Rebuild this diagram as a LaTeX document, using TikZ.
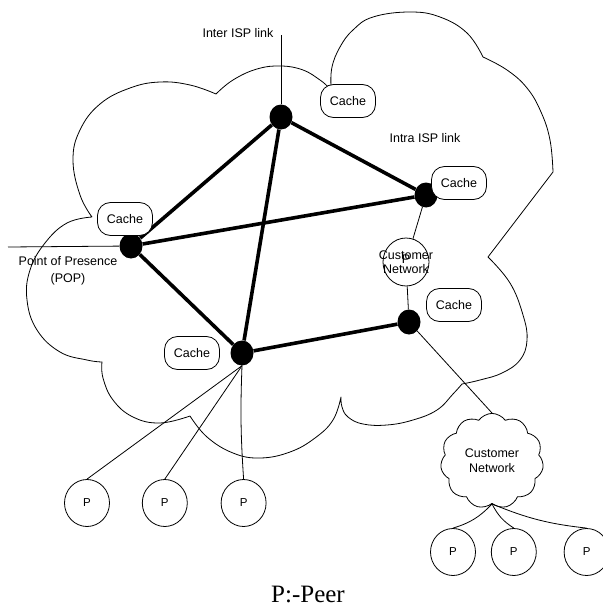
\documentclass[tikz,border=0pt]{standalone}
\usepackage{fontspec}
\setmainfont{Liberation Sans}
\newfontfamily\peerfont{Liberation Serif}
\usetikzlibrary{positioning}
\usetikzlibrary{shapes.geometric}
\usetikzlibrary{shapes.symbols}

\begin{document}
\begin{tikzpicture}[
            x = 1pt, y = -1pt, % pixel units, y going down
            font = \fontsize{12.5}{14}\selectfont,
            thinline/.style = {line width = 0.8pt},
            thickline/.style = {line width = 3.6pt},
            line join = round
            ]

        \tikzstyle{router}=[
            ellipse, fill = black, draw = none,
            minimum width = 23pt, minimum height = 25pt, inner sep = 0pt
        ]
        \tikzstyle{cache}=[
            draw, thinline, fill = white, rounded corners = 13pt,
            minimum width = 55pt, minimum height = 33pt, inner sep = 0pt
        ]
        \tikzstyle{peer}=[
            ellipse, draw, thinline, fill = white,
            minimum width = 45pt, minimum height = 47pt, inner sep = 0pt
        ]

  \fill[white] (0,0) rectangle (602,607);
  \useasboundingbox (0,0) rectangle (602,607);

  % ISP cloud, lobe by lobe
  \draw[thinline]
    plot[smooth, tension=.7] coordinates {(92,217) (80,195) (73,160) (80,130) (100,104) (130,88) (160,82) (190,85) (216,94)}
    -- plot[smooth, tension=.7] coordinates {(216,94) (233,80) (257,69) (281,66) (303,70) (320,80) (327,86)}
    -- plot[smooth, tension=.7] coordinates {(331,86) (332,67) (340,47) (353,30) (373,17) (410,12) (440,17) (467,33) (483,57)}
    -- plot[smooth, tension=.7] coordinates {(483,57) (507,70) (527,88) (541,112) (550,140) (553,172)}
    -- (488,257)
    -- plot[smooth, tension=.7] coordinates {(488,257) (510,283) (523,315) (527,340) (520,360) (502,373) (480,380) (462,384)}
    -- plot[smooth, tension=.7] coordinates {(462,384) (453,394) (437,410) (413,420) (387,425) (363,424) (348,417) (342,407) (341,397)}
    -- plot[smooth, tension=.7] coordinates {(341,397) (333,420) (315,438) (290,452) (260,458) (233,453) (207,437) (190,416)}
    -- plot[smooth, tension=.7] coordinates {(190,416) (160,423) (133,417) (113,400) (103,378) (102,362)}
    -- plot[smooth, tension=.7] coordinates {(102,362) (87,360) (60,352) (37,330) (27,300) (30,270) (45,243) (67,223) (92,217)};

  % routers
  \node[router] (T) at (281,117) {};
  \node[router] (R) at (426,195) {};
  \node[router] (L) at (131,246) {};
  \node[router] (B) at (242,353) {};
  \node[router] (D) at (409,322) {};

  % peers and customer networks
  \node[peer] (P1) at (87,503) {\fontsize{11.5}{13}\selectfont P};
  \node[peer] (P2) [right = 32pt of P1] {\fontsize{11.5}{13}\selectfont P};
  \node[peer] (P3) [right = 33pt of P2] {\fontsize{11.5}{13}\selectfont P};
  \node[peer] (P4) at (453,552) {\fontsize{11.5}{13}\selectfont P};
  \node[peer] (P5) [right = 15pt of P4] {\fontsize{11.5}{13}\selectfont P};
  \node[peer] (P6) [right = 27pt of P5] {\fontsize{11.5}{13}\selectfont P};

  \node[peer, minimum width = 46pt, minimum height = 48pt] (CN1) at (406,262) {};
  \node[cloud, draw, thinline, fill = white, cloud puffs = 11, cloud puff arc = 110,
        minimum width = 103pt, minimum height = 85pt, align = center,
        font = \fontsize{12.5}{15}\selectfont] (CN2) at (492,461) {Customer\\Network};

  % links
  \coordinate (interend) at (281,35);
  \coordinate (popend) at (8,247);
  \draw[thinline] (T) -- (interend);
  \draw[thinline] (L) -- (popend);

  \path[thickline] (T) edge (L)
                   (T) edge (R)
                   (T) edge (B)
                   (L) edge (R)
                   (L) edge (B)
                   (B) edge (D);

  \draw[thinline] (R) -- (CN1);
  \draw[thinline] (CN1) -- (D);
  \draw[thinline] (D) -- (CN2.north);

  \draw[thinline] (B.south) -- (P1.north);
  \draw[thinline] (B.south) -- (P2.north);
  \draw[thinline] (B.south) to[bend right = 3] (P3.north);

  \draw[thinline] (CN2.south) to[bend left = 15] (P4.north);
  \draw[thinline] (CN2.south) to[bend right = 15] (P5.north);
  \draw[thinline] (CN2.south) to[bend right = 8] (P6.north);

  % caches
  \node[cache] (CT) at (348,101) {Cache};
  \node[cache] (CR) at (459,183) {Cache};
  \node[cache] (CL) at (125,219) {Cache};
  \node[cache] (CD) at (454,305) {Cache};
  \node[cache] (CB) at (192,353) {Cache};

  % texts
  \node (inter) at (238,33) {Inter ISP link};
  \node (intra) at (425,138) {Intra ISP link};
  \node[align = center, font = \fontsize{12.5}{16.5}\selectfont] (pop) at (68,271) {Point of Presence\\(POP)};
  \node (CN1p) at (406,259) {P};
  \node[align = center] (CN1text) at (406,262) {Customer\\Network};
  \node[font = \peerfont\fontsize{25}{28}\selectfont] (legend) at (308,594) {P:-Peer};

\end{tikzpicture}
\end{document}
